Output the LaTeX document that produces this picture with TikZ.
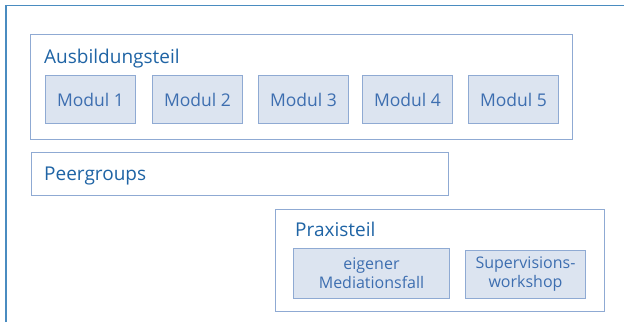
\documentclass[tikz,border=0pt]{standalone}
\usepackage{fontspec}
\setmainfont{Open Sans}
\definecolor{frame}{HTML}{4A8CC0}
\definecolor{boxline}{HTML}{8FAAD3}
\definecolor{boxfill}{HTML}{DCE4F0}
\definecolor{headtxt}{HTML}{1F64A5}
\definecolor{modtxt}{HTML}{3D6EB0}
\tikzset{
  group/.style={draw=boxline, line width=1pt, fill=white, anchor=north west, inner sep=0pt},
  item/.style={draw=boxline, line width=1pt, fill=boxfill, anchor=north west, inner sep=0pt, text=modtxt, font=\fontsize{17.5}{19}\selectfont, align=center},
  small/.style={font=\fontsize{16}{19}\selectfont},
  head/.style={anchor=base west, inner sep=0pt, text=headtxt, font=\fontsize{19}{22}\selectfont},
}
\begin{document}
\begin{tikzpicture}[x=1pt,y=-1pt]
\useasboundingbox (0,0) rectangle (624,322);
\draw[frame, line width=1.4pt] (6,322) -- (6,5.5) -- (624,5.5);
% Ausbildungsteil
\node[group, minimum width=542pt, minimum height=105pt] (aus) at (30,34) {};
\node[head] (ausl) at (44,63) {Ausbildungsteil};
\node[item, minimum width=90pt, minimum height=48pt] (m1) at (45,75) {Modul 1};
\node[item, minimum width=90pt, minimum height=48pt] (m2) at (152,75) {Modul 2};
\node[item, minimum width=90pt, minimum height=48pt] (m3) at (258,75) {Modul 3};
\node[item, minimum width=90pt, minimum height=48pt] (m4) at (362,75) {Modul 4};
\node[item, minimum width=90pt, minimum height=48pt] (m5) at (468,75) {Modul 5};
% Peergroups
\node[group, minimum width=417pt, minimum height=43pt] (peer) at (31,152) {};
\node[head] (peerl) at (44,180) {Peergroups};
% Praxisteil
\node[group, minimum width=329pt, minimum height=102pt] (prax) at (275,209) {};
\node[head] (praxl) at (295,236) {Praxisteil};
\node[item, small, minimum width=156pt, minimum height=50pt] (fall) at (293,248) {eigener\\Mediationsfall};
\node[item, small, minimum width=120pt, minimum height=48pt] (sup) at (465,250) {Supervisions-\\workshop};
\end{tikzpicture}
\end{document}
